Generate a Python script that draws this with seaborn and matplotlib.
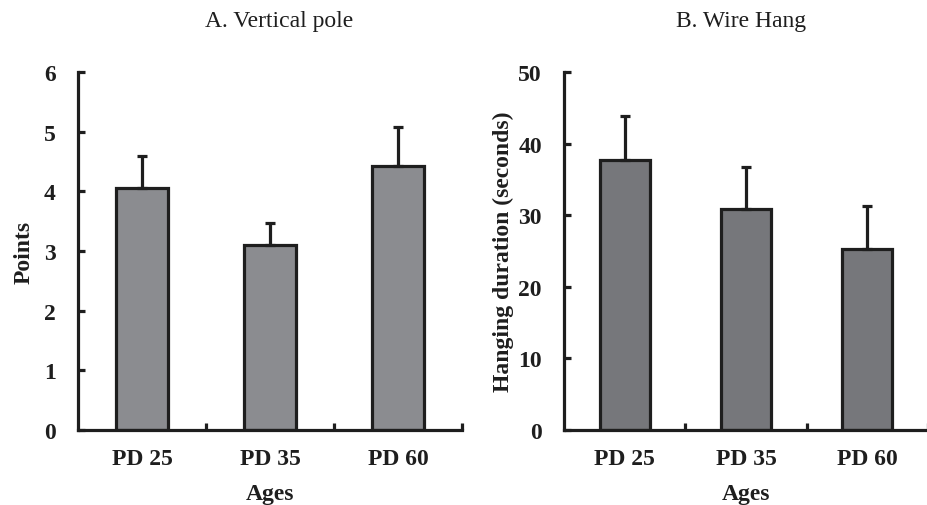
import numpy as np
import pandas as pd
import matplotlib
matplotlib.use("Agg")
import matplotlib.pyplot as plt
import seaborn as sns

# data
ages = ["PD 25", "PD 35", "PD 60"]
pole_points = [4.05, 3.10, 4.42]
pole_err = [0.55, 0.37, 0.66]
hang_seconds = [37.7, 30.8, 25.3]
hang_err = [6.2, 6.0, 6.0]

sns.set_theme(style="ticks")
plt.rcParams['font.family'] = ['Liberation Serif', 'DejaVu Serif']
plt.rcParams['text.color'] = '#1e1e1e'
plt.rcParams['axes.labelcolor'] = '#1e1e1e'
plt.rcParams['xtick.color'] = '#1e1e1e'
plt.rcParams['ytick.color'] = '#1e1e1e'

df_pole = pd.DataFrame({"Ages": ages, "Points": pole_points})
df_hang = pd.DataFrame({"Ages": ages, "Hanging": hang_seconds})

fig = plt.figure(figsize=(9.28, 5.06), dpi=100)
W, H = 928, 506
ax1 = fig.add_axes([78 / W, (H - 431) / H, 384 / W, 358 / H])
ax2 = fig.add_axes([564 / W, (H - 431) / H, 364 / W, 358 / H])

edge = '#1e1e1e'
lw = 2.3
fs = 17


def draw(ax, df, col, err, color, ymax, yticks, ylabel, xmax, ylpad):
    sns.barplot(data=df, x="Ages", y=col, ax=ax, color=color, width=0.41,
                edgecolor=edge, linewidth=lw, errorbar=None, saturation=1)
    ax.errorbar(np.arange(len(df)), df[col], yerr=[np.zeros(len(err)), err],
                fmt='none', ecolor=edge, elinewidth=lw, capsize=3.5, capthick=lw,
                zorder=1)
    ax.set_xlim(-0.5, xmax)
    ax.set_ylim(0, ymax)
    ax.set_yticks(yticks)
    ax.set_xticks([0.5, 1.5, 2.5], minor=True)
    ax.tick_params(axis='x', which='major', length=0, pad=13, labelsize=fs)
    ax.tick_params(axis='x', which='minor', direction='in', length=5, width=lw)
    ax.tick_params(axis='y', direction='in', length=5, width=lw, pad=16, labelsize=fs)
    for lab in ax.get_xticklabels() + ax.get_yticklabels():
        lab.set_fontweight('bold')
    for s in ['top', 'right']:
        ax.spines[s].set_visible(False)
    for s in ['left', 'bottom']:
        ax.spines[s].set_linewidth(lw)
        ax.spines[s].set_color(edge)
    ax.set_xlabel("Ages", fontsize=fs, fontweight='bold', labelpad=10)
    ax.set_ylabel(ylabel, fontsize=fs, fontweight='bold', labelpad=ylpad)


draw(ax1, df_pole, "Points", pole_err, '#8b8c90', 6, range(0, 7), "Points", 2.5, 7)
draw(ax2, df_hang, "Hanging", hang_err, '#76777b', 50, range(0, 51, 10),
     "Hanging duration (seconds)", 2.46, 3)

fig.text(279 / W, 1 - 22 / H, "A. Vertical pole", ha='center', va='center', fontsize=fs)
fig.text(741 / W, 1 - 22 / H, "B. Wire Hang", ha='center', va='center', fontsize=fs)

fig.savefig("out.png", dpi=100)
